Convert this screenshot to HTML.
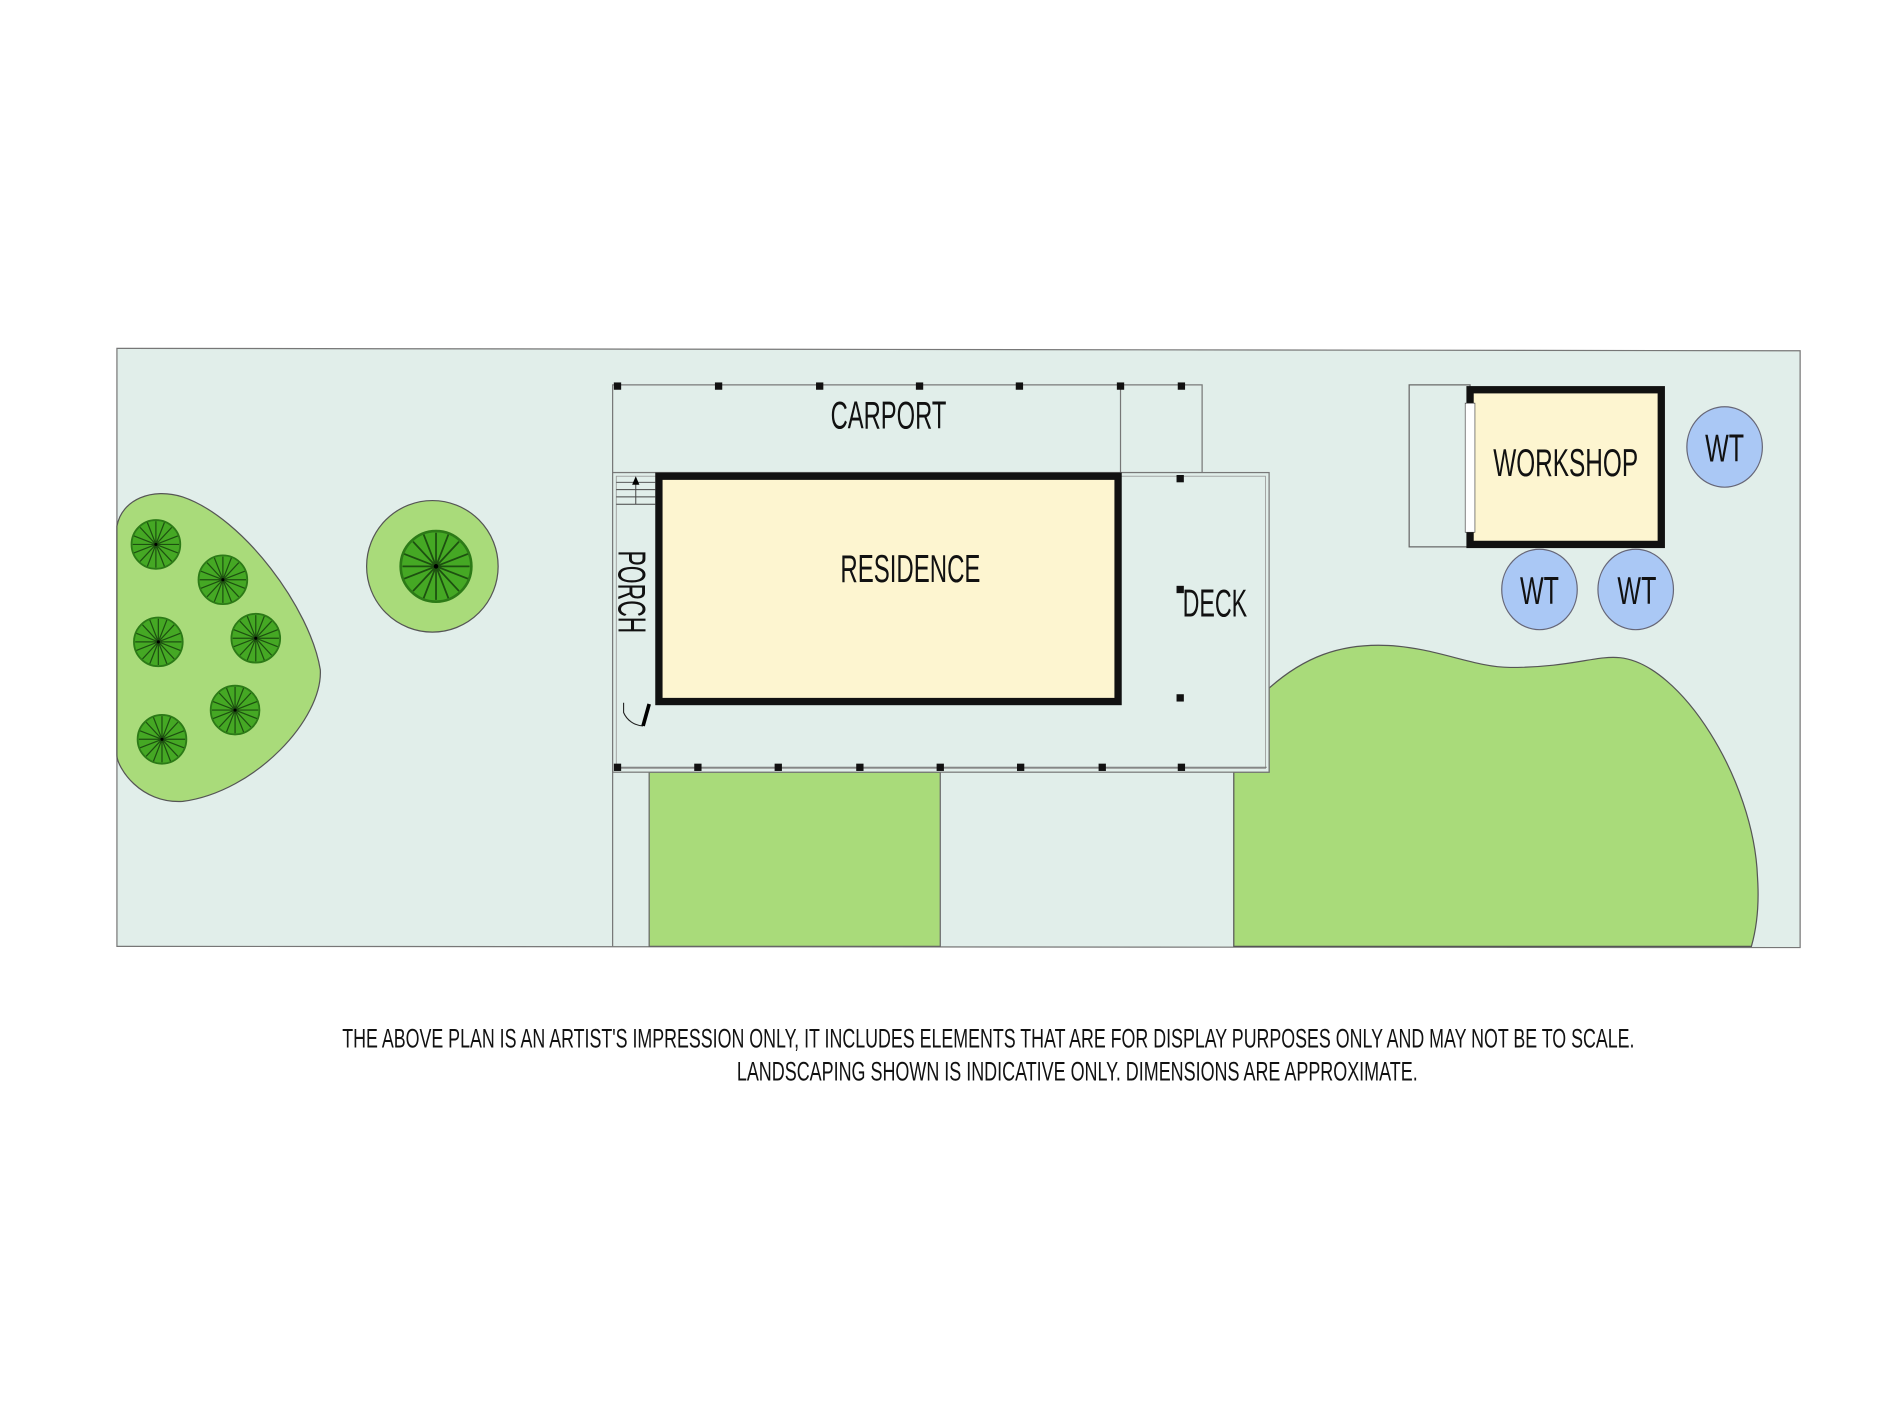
<!DOCTYPE html>
<html><head><meta charset="utf-8"><style>
html,body{margin:0;padding:0;background:#fff;}
svg{display:block;}
text{font-family:"Liberation Sans Narrow","Liberation Sans",sans-serif;fill:#111;}
</style></head><body>
<svg width="1900" height="1425" viewBox="0 0 1560 1170" xmlns="http://www.w3.org/2000/svg">
<defs>
<g id="tree">
<circle r="20" fill="#45a824" stroke="#2c7a17" stroke-width="1.5"/>
<g stroke="#1d5010" stroke-width="1" fill="none">
<path d="M0 0L0 -19M0 0L13 -14M0 0L19 0M0 0L13 14M0 0L0 19M0 0L-13 14M0 0L-19 0M0 0L-13 -14M0 0L7 -18M0 0L18 -7M0 0L18 7M0 0L7 18M0 0L-7 18M0 0L-18 7M0 0L-18 -7M0 0L-7 -18"/>
</g>
<circle r="1.3" fill="#000"/>
</g>
</defs>
<rect width="1560" height="1170" fill="#fff"/>
<polygon points="96,286 1478,288 1478,778 96,777" fill="#e1eeea" stroke="#777" stroke-width="1"/>
<path d="M96,432 C100,410 125,400 150,408 C200,425 255,500 263,550 C265,590 210,650 150,658 C115,660 96,630 96,620 Z" fill="#a9db7a" stroke="#555" stroke-width="1"/>
<ellipse cx="355" cy="465" rx="54" ry="54" fill="#a9db7a" stroke="#555" stroke-width="1"/>
<use href="#tree" transform="translate(128,447)"/>
<use href="#tree" transform="translate(183,476)"/>
<use href="#tree" transform="translate(130,527)"/>
<use href="#tree" transform="translate(210,524)"/>
<use href="#tree" transform="translate(193,583)"/>
<use href="#tree" transform="translate(133,607)"/>
<use href="#tree" transform="translate(358,465) scale(1.45)"/>
<line x1="503" y1="630" x2="503" y2="777" stroke="#777"/>
<rect x="533" y="634" width="239" height="143" fill="#a9db7a" stroke="#666" stroke-width="1"/>
<path d="M1013,777 L1013,634 L1042,634 L1042,565 C1070,540 1100,528 1140,530 C1180,532 1210,548 1240,548 C1290,548 1310,538 1330,540 C1380,545 1440,640 1443,720 C1445,750 1440,770 1438,777 Z" fill="#a9db7a" stroke="#555" stroke-width="1"/>
<rect x="503" y="316" width="484" height="72" fill="#e1eeea" stroke="#777" stroke-width="1"/>
<line x1="920" y1="316" x2="920" y2="388" stroke="#777"/>
<rect x="503" y="388" width="539" height="246" fill="#e1eeea" stroke="#777" stroke-width="1"/>
<rect x="506" y="391" width="533" height="240" fill="none" stroke="#999" stroke-width="0.7"/>
<line x1="506" y1="630" x2="1040" y2="630" stroke="#777"/>
<g stroke="#444" stroke-width="0.8">
<line x1="506" y1="396" x2="538" y2="396"/><line x1="506" y1="402" x2="538" y2="402"/>
<line x1="506" y1="408" x2="538" y2="408"/><line x1="506" y1="414" x2="538" y2="414"/>
<line x1="522" y1="414" x2="522" y2="394"/>
</g>
<path d="M519,398 L522,391 L525,398 Z" fill="#000"/>
<path d="M512,577 L512,585 A18,18 0 0 0 528,596" fill="none" stroke="#222" stroke-width="0.9"/>
<line x1="533" y1="578" x2="528" y2="596" stroke="#000" stroke-width="3"/>
<rect x="541" y="391" width="377" height="185" fill="#fdf5d0" stroke="#111" stroke-width="6"/>
<g fill="#111">
<rect x="504" y="314" width="6" height="6"/><rect x="587" y="314" width="6" height="6"/>
<rect x="670" y="314" width="6" height="6"/><rect x="752" y="314" width="6" height="6"/>
<rect x="834" y="314" width="6" height="6"/><rect x="917" y="314" width="6" height="6"/>
<rect x="967" y="314" width="6" height="6"/>
<rect x="966" y="390" width="6" height="6"/><rect x="966" y="481" width="6" height="6"/><rect x="966" y="570" width="6" height="6"/>
<rect x="504" y="627" width="6" height="6"/><rect x="570" y="627" width="6" height="6"/>
<rect x="636" y="627" width="6" height="6"/><rect x="703" y="627" width="6" height="6"/>
<rect x="769" y="627" width="6" height="6"/><rect x="835" y="627" width="6" height="6"/>
<rect x="902" y="627" width="6" height="6"/><rect x="967" y="627" width="6" height="6"/>
</g>
<rect x="1157" y="316" width="50" height="133" fill="#e1eeea" stroke="#666" stroke-width="1"/>
<rect x="1207" y="320" width="157" height="127" fill="#fdf5d0" stroke="#111" stroke-width="6"/>
<rect x="1203" y="331" width="8" height="106" fill="#fff" stroke="#333" stroke-width="0.5"/>
<ellipse cx="1416" cy="367" rx="31" ry="33" fill="#aac8f5" stroke="#667" stroke-width="1"/>
<ellipse cx="1264" cy="484" rx="31" ry="33" fill="#aac8f5" stroke="#667" stroke-width="1"/>
<ellipse cx="1343" cy="484" rx="31" ry="33" fill="#aac8f5" stroke="#667" stroke-width="1"/>
<text x="682" y="352" font-size="32" textLength="95" lengthAdjust="spacingAndGlyphs">CARPORT</text>
<text x="690" y="478" font-size="32" textLength="115" lengthAdjust="spacingAndGlyphs">RESIDENCE</text>
<text transform="translate(508,452) rotate(90)" font-size="32" textLength="68" lengthAdjust="spacingAndGlyphs">PORCH</text>
<text x="971" y="506" font-size="32" textLength="53" lengthAdjust="spacingAndGlyphs">DECK</text>
<text x="1226" y="391" font-size="32" textLength="119" lengthAdjust="spacingAndGlyphs">WORKSHOP</text>
<text x="1400" y="379" font-size="32" textLength="32" lengthAdjust="spacingAndGlyphs">WT</text>
<text x="1248" y="496" font-size="32" textLength="32" lengthAdjust="spacingAndGlyphs">WT</text>
<text x="1328" y="496" font-size="32" textLength="32" lengthAdjust="spacingAndGlyphs">WT</text>
<text x="281" y="860" font-size="22" textLength="1061" lengthAdjust="spacingAndGlyphs">THE ABOVE PLAN IS AN ARTIST'S IMPRESSION ONLY, IT INCLUDES ELEMENTS THAT ARE FOR DISPLAY PURPOSES ONLY AND MAY NOT BE TO SCALE.</text>
<text x="605" y="887" font-size="22" textLength="559" lengthAdjust="spacingAndGlyphs">LANDSCAPING SHOWN IS INDICATIVE ONLY. DIMENSIONS ARE APPROXIMATE.</text>
</svg>
</body></html>
